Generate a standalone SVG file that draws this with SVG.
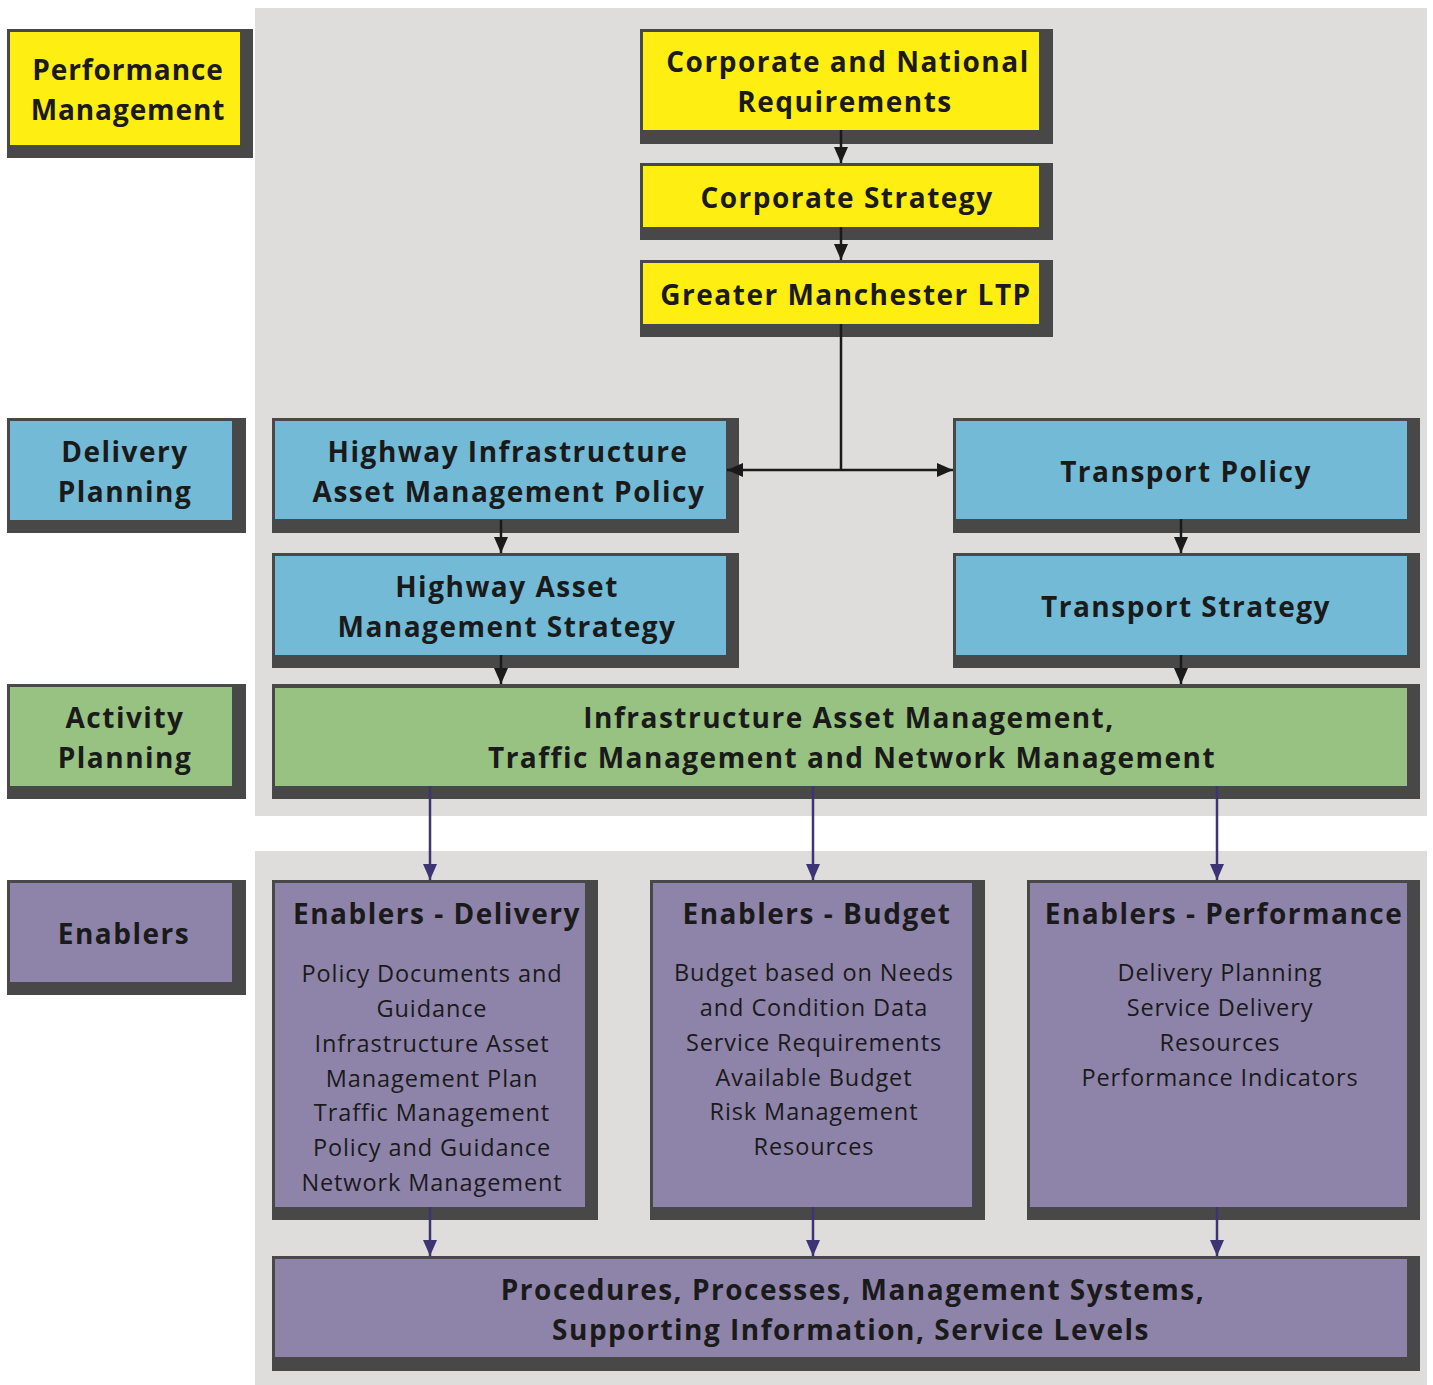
<svg xmlns="http://www.w3.org/2000/svg" width="1433" height="1385" viewBox="0 0 1433 1385">
<defs>
<style>
.sh{fill:#484848}
.y{fill:#FFEE12}
.b{fill:#73BAD6}
.g{fill:#98C281}
.p{fill:#8E84AA}
.t{font-family:"Open Sans","DejaVu Sans",sans-serif;font-weight:bold;font-size:28px;fill:#1a1a1a;text-anchor:middle;letter-spacing:1.5px}
.r{font-family:"Open Sans","DejaVu Sans",sans-serif;font-size:23.5px;fill:#1a1a1a;text-anchor:middle;letter-spacing:0.9px}
.k{stroke:#1a1a1a;stroke-width:2.5;fill:none}
.v{stroke:#3C3473;stroke-width:2.5;fill:none}
</style>
<marker id="ak" markerUnits="userSpaceOnUse" markerWidth="16" markerHeight="14" refX="16" refY="7" orient="auto-start-reverse"><path d="M0,0 L16,7 L0,14 Z" fill="#1a1a1a"/></marker>
<marker id="ap" markerUnits="userSpaceOnUse" markerWidth="16" markerHeight="14" refX="16" refY="7" orient="auto"><path d="M0,0 L16,7 L0,14 Z" fill="#3C3473"/></marker>
</defs>
<rect x="0" y="0" width="1433" height="1385" fill="#fff"/>
<rect x="255" y="8" width="1172" height="808" fill="#DEDDDC"/>
<rect x="255" y="851" width="1172" height="534" fill="#DEDDDC"/>

<g id="perf-label"><rect class="sh" x="7" y="29" width="246" height="129"/><rect class="y" x="10" y="32" width="230" height="113"/>
<text class="t" x="128" y="80" style="letter-spacing:0.9px">Performance</text><text class="t" x="128" y="120" style="letter-spacing:0.9px">Management</text></g>
<g id="corp-national"><rect class="sh" x="640" y="29" width="413" height="115"/><rect class="y" x="643" y="32" width="396" height="98"/>
<text class="t" x="848" y="72">Corporate and National</text><text class="t" x="845" y="112">Requirements</text></g>
<g id="corp-strategy"><rect class="sh" x="640" y="163" width="413" height="77"/><rect class="y" x="643" y="166" width="396" height="61"/>
<text class="t" x="847" y="208">Corporate Strategy</text></g>
<g id="gm-ltp"><rect class="sh" x="640" y="260" width="413" height="77"/><rect class="y" x="643" y="263" width="396" height="61"/>
<text class="t" x="846" y="305">Greater Manchester LTP</text></g>

<g id="delivery-label"><rect class="sh" x="7" y="418" width="239" height="115"/><rect class="b" x="10" y="421" width="222" height="99"/>
<text class="t" x="125" y="462">Delivery</text><text class="t" x="125" y="502">Planning</text></g>
<g id="hiam-policy"><rect class="sh" x="272" y="418" width="467" height="115"/><rect class="b" x="275" y="421" width="451" height="98"/>
<text class="t" x="508" y="462">Highway Infrastructure</text><text class="t" x="509" y="502">Asset Management Policy</text></g>
<g id="transport-policy"><rect class="sh" x="953" y="418" width="467" height="115"/><rect class="b" x="956" y="421" width="451" height="98"/>
<text class="t" x="1186" y="482">Transport Policy</text></g>
<g id="ham-strategy"><rect class="sh" x="272" y="553" width="467" height="115"/><rect class="b" x="275" y="556" width="451" height="99"/>
<text class="t" x="507" y="597">Highway Asset</text><text class="t" x="507" y="637">Management Strategy</text></g>
<g id="transport-strategy"><rect class="sh" x="953" y="553" width="467" height="115"/><rect class="b" x="956" y="556" width="451" height="99"/>
<text class="t" x="1186" y="617">Transport Strategy</text></g>

<g id="activity-label"><rect class="sh" x="7" y="684" width="239" height="115"/><rect class="g" x="10" y="687" width="222" height="99"/>
<text class="t" x="125" y="728">Activity</text><text class="t" x="125" y="768">Planning</text></g>
<g id="activity"><rect class="sh" x="272" y="684" width="1148" height="115"/><rect class="g" x="275" y="688" width="1132" height="98"/>
<text class="t" x="849" y="728">Infrastructure Asset Management,</text><text class="t" x="852" y="768">Traffic Management and Network Management</text></g>

<g id="enablers-label"><rect class="sh" x="7" y="880" width="239" height="115"/><rect class="p" x="10" y="883" width="222" height="99"/>
<text class="t" x="124" y="944">Enablers</text></g>
<g id="en-delivery"><rect class="sh" x="272" y="880" width="326" height="340"/><rect class="p" x="275" y="883" width="310" height="324"/>
<text class="t" x="437" y="924">Enablers - Delivery</text>
<text class="r" x="432" y="982">Policy Documents and</text>
<text class="r" x="432" y="1017">Guidance</text>
<text class="r" x="432" y="1052">Infrastructure Asset</text>
<text class="r" x="432" y="1087">Management Plan</text>
<text class="r" x="432" y="1121">Traffic Management</text>
<text class="r" x="432" y="1156">Policy and Guidance</text>
<text class="r" x="432" y="1191">Network Management</text></g>
<g id="en-budget"><rect class="sh" x="650" y="880" width="335" height="340"/><rect class="p" x="653" y="883" width="319" height="324"/>
<text class="t" x="817" y="924">Enablers - Budget</text>
<text class="r" x="814" y="981">Budget based on Needs</text>
<text class="r" x="814" y="1016">and Condition Data</text>
<text class="r" x="814" y="1051">Service Requirements</text>
<text class="r" x="814" y="1086">Available Budget</text>
<text class="r" x="814" y="1120">Risk Management</text>
<text class="r" x="814" y="1155">Resources</text></g>
<g id="en-performance"><rect class="sh" x="1027" y="880" width="393" height="340"/><rect class="p" x="1030" y="883" width="377" height="324"/>
<text class="t" x="1224" y="924">Enablers - Performance</text>
<text class="r" x="1220" y="981">Delivery Planning</text>
<text class="r" x="1220" y="1016">Service Delivery</text>
<text class="r" x="1220" y="1051">Resources</text>
<text class="r" x="1220" y="1086">Performance Indicators</text></g>
<g id="procedures"><rect class="sh" x="272" y="1256" width="1148" height="115"/><rect class="p" x="275" y="1259" width="1132" height="98"/>
<text class="t" x="853" y="1300">Procedures, Processes, Management Systems,</text><text class="t" x="851" y="1340">Supporting Information, Service Levels</text></g>

<g id="connectors">
<line class="k" x1="841" y1="130" x2="841" y2="163" marker-end="url(#ak)"/>
<line class="k" x1="841" y1="227" x2="841" y2="260" marker-end="url(#ak)"/>
<line class="k" x1="841" y1="324" x2="841" y2="470"/>
<line class="k" x1="727" y1="470" x2="953" y2="470" marker-start="url(#ak)" marker-end="url(#ak)"/>
<line class="k" x1="501" y1="520" x2="501" y2="553" marker-end="url(#ak)"/>
<line class="k" x1="1181" y1="519" x2="1181" y2="553" marker-end="url(#ak)"/>
<line class="k" x1="501" y1="655" x2="501" y2="684" marker-end="url(#ak)"/>
<line class="k" x1="1181" y1="655" x2="1181" y2="684" marker-end="url(#ak)"/>
<line class="v" x1="430" y1="786" x2="430" y2="880" marker-end="url(#ap)"/>
<line class="v" x1="813" y1="786" x2="813" y2="880" marker-end="url(#ap)"/>
<line class="v" x1="1217" y1="786" x2="1217" y2="880" marker-end="url(#ap)"/>
<line class="v" x1="430" y1="1207" x2="430" y2="1256" marker-end="url(#ap)"/>
<line class="v" x1="813" y1="1207" x2="813" y2="1256" marker-end="url(#ap)"/>
<line class="v" x1="1217" y1="1207" x2="1217" y2="1256" marker-end="url(#ap)"/>
</g>
</svg>
